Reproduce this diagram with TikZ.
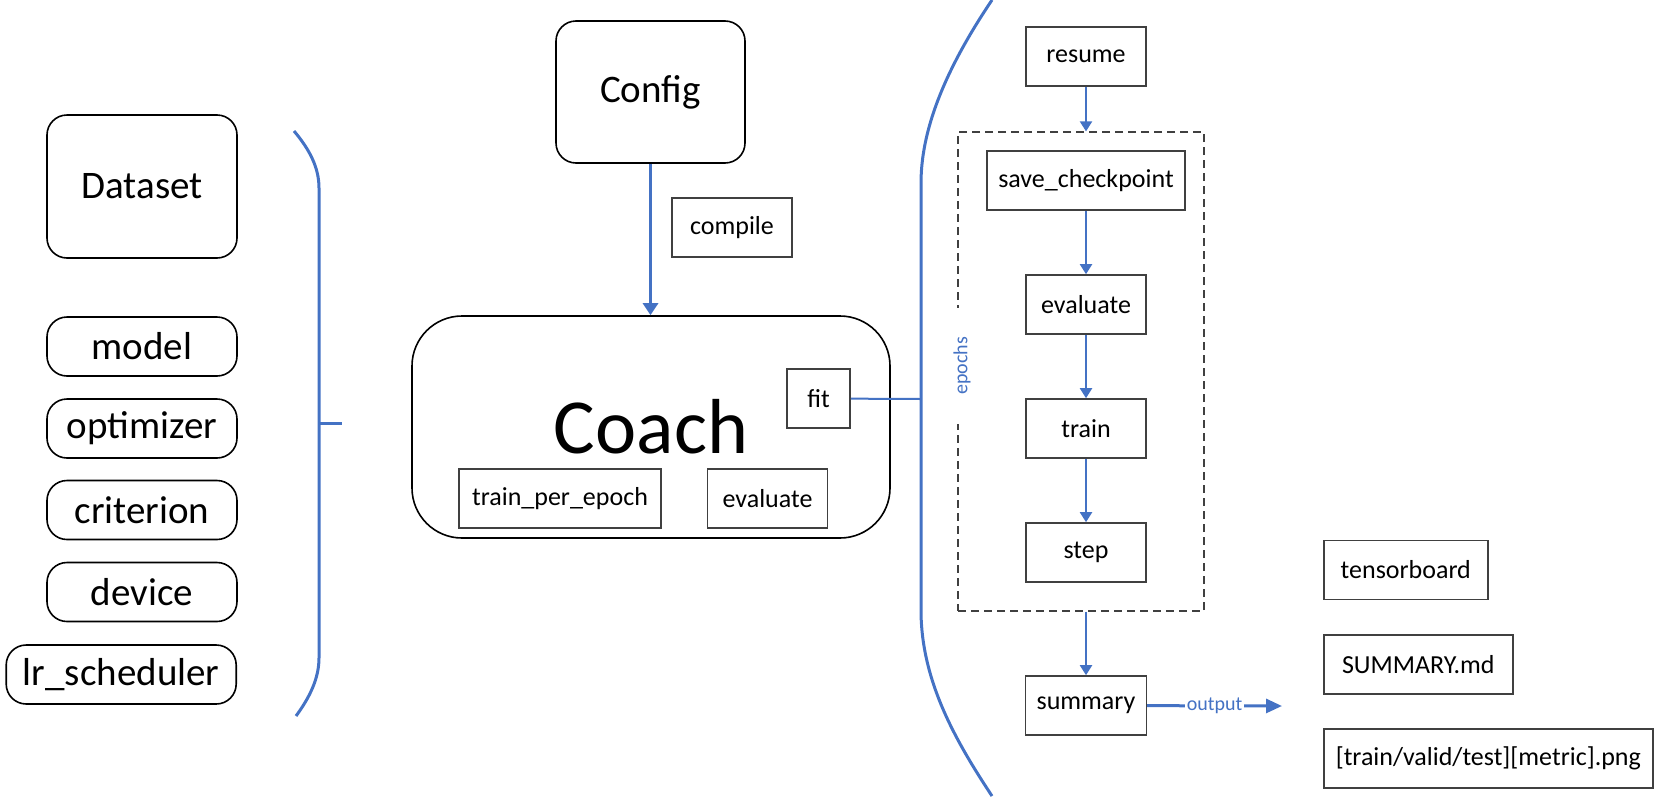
\documentclass[tikz,border=0pt]{standalone}
\usepackage{fontspec}
\setmainfont{Carlito}
\usetikzlibrary{arrows.meta}
\definecolor{lineblue}{HTML}{4472C4}

\begin{document}
\begin{tikzpicture}[x=0.5pt, y=-0.5pt,
    every node/.style={font=\fontsize{13}{15}\selectfont, inner sep=0pt},
    part/.style={draw, rounded corners=10pt, line width=0.8pt, minimum width=95pt, minimum height=29.5pt, font=\fontsize{19.5}{23}\selectfont},
    fnbox/.style={draw=black!75, line width=0.8pt, minimum width=60pt, minimum height=29.5pt, inner xsep=5.5pt},
    flow/.style={draw=lineblue, line width=1pt, -{Triangle[width=6pt, length=5pt]}},
    brace/.style={draw=lineblue, line width=1.5pt},
    tag/.style={text=lineblue, font=\fontsize{10}{12}\selectfont}]
    \useasboundingbox (0,0) rectangle (1659,798);
    \node [part, minimum height=71.5pt] (dataset) at (142, 186.5) {Dataset};
    \node [part] (model) at (142, 346.5) {model};
    \node [part] (optimizer) at (142, 428.5) {optimizer};
    \node [part] (criterion) at (142, 510) {criterion};
    \node [part] (device) at (142, 592) {device};
    \node [part, minimum width=115pt, anchor=east] (scheduler) at (237, 674.5) {lr\_scheduler};
    \draw [brace] (294,131) .. controls (310,150) and (319,168) .. (319,188) -- (319,658) .. controls (319,678) and (310,697) .. (296,716);
    \draw [brace] (319,423) -- (342,423);

    \node [part, minimum width=94.5pt, minimum height=71pt] (config) at (650.5, 92) {Config};
    \node [fnbox] (compile) at (732, 227.5) {compile};
    \node [draw, line width=0.8pt, rounded corners=25pt, minimum width=239pt, minimum height=111pt, font=\fontsize{39}{47}\selectfont] (coach) at (651, 427) {Coach};
    \draw [lineblue, line width=1.5pt, -{Triangle[width=7.5pt, length=6pt]}] (config.south) -- (config.south |- coach.north);
    \node [fnbox, minimum width=31.5pt] (fit) at (818.5, 398.5) {fit};
    \node [fnbox, minimum width=101pt] (trainepoch) at (560, 498.5) {train\_per\_epoch};
    \node [fnbox] (coacheval) at (767.5, 498.5) {evaluate};
    \coordinate (fitjoin) at (921, 399);
    \draw [lineblue, line width=1pt] (fit) -- (fitjoin);
    \draw [brace] (992,0) .. controls (955,55) and (921,120) .. (921,183) -- (921,610) .. controls (921,680) and (955,740) .. (992,796);

    \node [fnbox] (resume) at (1086, 56.5) {resume};
    \node [draw=black!75, line width=0.6pt, dash pattern=on 4pt off 2.5pt, minimum width=123pt, minimum height=239.5pt] (epochbox) at (1081, 371.5) {};
    \node [tag, rotate=90, fill=white, inner xsep=14.5pt, inner ysep=2pt] (epochs) at (962, 366) {epochs};
    \node [fnbox] (savecp) at (1086, 180.5) {save\_checkpoint};
    \node [fnbox] (evaluate) at (1086, 304.5) {evaluate};
    \node [fnbox] (train) at (1086, 428.5) {train};
    \node [fnbox] (stepnode) at (1086, 552.5) {step};
    \node [fnbox] (summary) at (1086, 705.5) {summary};
    \draw [flow] (resume) -- (resume |- epochbox.north);
    \draw [flow] (savecp) -- (evaluate);
    \draw [flow] (evaluate) -- (train);
    \draw [flow] (train) -- (stepnode);
    \draw [flow] (epochbox.south -| summary) -- (summary);

    \coordinate (outtip) at (1282, 706);
    \draw [lineblue, line width=1.5pt, -{Triangle[width=7pt, length=8pt]}] (summary) -- node [tag, fill=white, inner xsep=1pt, inner ysep=1pt] {output} (outtip);
    \node [fnbox, anchor=west, minimum width=82pt] (tensorboard) at (1323, 570) {tensorboard};
    \node [fnbox, anchor=west, minimum width=94.5pt] (summarymd) at (1323, 664.5) {SUMMARY.md};
    \node [fnbox, anchor=west, minimum width=164.5pt] (plots) at (1323, 758.5) {[train/valid/test][metric].png};
\end{tikzpicture}
\end{document}
